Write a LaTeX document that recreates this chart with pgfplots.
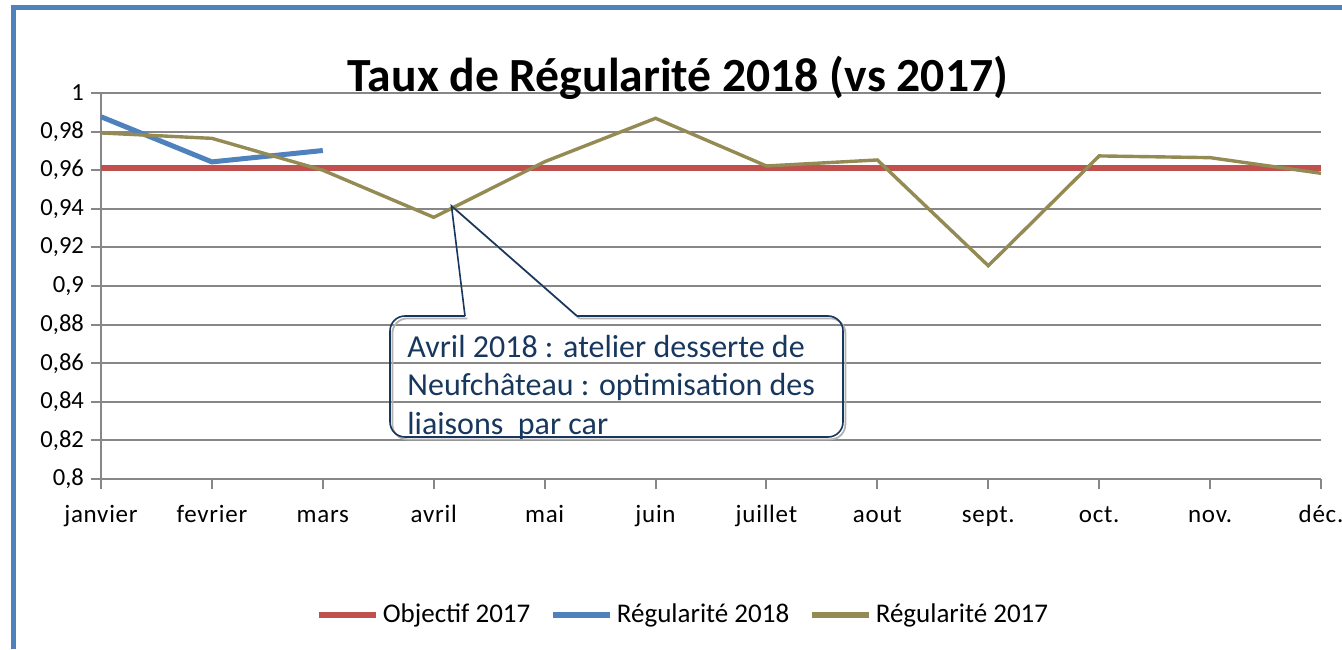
\documentclass[border=0pt]{standalone}
\usepackage{pgfplots}
\pgfplotsset{compat=1.18}
\usepackage{fontspec}
\setmainfont{Carlito}
\newfontfamily\spacedfont[LetterSpace=3]{Carlito}
\definecolor{cred}{HTML}{C0504D}
\definecolor{cblue}{HTML}{4F81BD}
\definecolor{colive}{HTML}{948A54}
\definecolor{cnavy}{HTML}{17375E}
\definecolor{cgrid}{HTML}{878787}
\begin{document}
\begin{tikzpicture}
\path[use as bounding box] (0,0) rectangle (671pt,324.5pt);
\draw[cblue, line width=2.5pt] (6.5pt,0pt) -- (6.5pt,320.5pt) -- (671pt,320.5pt);
\begin{axis}[
  at={(50.5pt,85pt)}, anchor=south west,
  width=610pt, height=193pt, scale only axis,
  xmin=0, xmax=11, ymin=0.8, ymax=1,
  xtick={0,...,11},
  xticklabels={janvier,fevrier,mars,avril,mai,juin,juillet,aout,sept.,oct.,nov.,déc.},
  ytick={0.8,0.82,...,1.001},
  axis x line*=bottom, axis y line*=left,
  axis line style={cgrid, line width=1pt, -},
  tick style={cgrid, line width=1pt},
  tick align=outside, major tick length=5pt,
  ymajorgrids, major grid style={cgrid, line width=1pt},
  /pgf/number format/assume math mode=true,
  /pgf/number format/use comma, /pgf/number format/fixed, /pgf/number format/precision=2,
  yticklabel style={font=\fontsize{12.3}{14}\selectfont},
  xticklabel style={font=\spacedfont\fontsize{12.5}{14}\selectfont, anchor=base, yshift=-16.5pt},
  legend style={draw=none, fill=none, at={(0.478,-0.352)}, anchor=center,
    font=\fontsize{13.5}{16}\selectfont,
    /tikz/every even column/.append style={column sep=8pt}},
  legend columns=3,
  legend image code/.code={\draw[#1, line width=2.8pt] (0pt,0pt) -- (28.5pt,0pt);},
  clip=false,
]
\addplot[cred, line width=2.8pt] coordinates {(0,0.961)(1,0.961)(2,0.961)(3,0.961)(4,0.961)(5,0.961)(6,0.961)(7,0.961)(8,0.961)(9,0.961)(10,0.961)(11,0.961)};
\addlegendentry{Objectif 2017}
\addplot[cblue, line width=2.5pt] coordinates {(0,0.9877)(1,0.9643)(2,0.9702)};
\addlegendentry{Régularité 2018}
\addplot[colive, line width=1.7pt] coordinates {(0,0.9793)(1,0.9765)(2,0.9600)(3,0.9356)(4,0.9644)(5,0.9869)(6,0.9622)(7,0.9653)(8,0.9105)(9,0.9674)(10,0.9665)(11,0.9584)};
\addlegendentry{Régularité 2017}
\coordinate (tip) at (axis cs:3.16,0.9415);
\end{axis}
\node[anchor=base, font=\fontsize{23.8}{27}\selectfont\bfseries, inner sep=0pt] at (339pt,278.5pt) {Taux de Régularité 2018 (vs 2017)};
% callout shadow
\draw[gray!60, line width=0.9pt, rounded corners=7.5pt, shift={(1.2pt,-1.2pt)}] (232.5pt,166.5pt) -- (195pt,166.5pt) -- (195pt,106pt) -- (421.5pt,106pt) -- (421.5pt,166.5pt) -- (288.5pt,166.5pt);
\draw[gray!60, line width=0.9pt, shift={(1.2pt,-1.2pt)}] (tip) -- (288.5pt,166.5pt);
\draw[cnavy, line width=0.8pt, rounded corners=7.5pt] (232.5pt,166.5pt) -- (195pt,166.5pt) -- (195pt,106pt) -- (421.5pt,106pt) -- (421.5pt,166.5pt) -- (288.5pt,166.5pt);
\draw[cnavy, line width=0.8pt] (232.5pt,166.5pt) -- (tip) -- (288.5pt,166.5pt);
\begin{scope}[every node/.style={anchor=base west, inner sep=0pt, text=cnavy, font=\fontsize{16}{18}\selectfont}]
\node at (203.5pt,146pt) {Avril 2018 : atelier desserte de};
\node at (203.5pt,127pt) {Neufchâteau : optimisation des};
\node at (203.5pt,107.5pt) {liaisons\ \ par car};
\end{scope}
\end{tikzpicture}
\end{document}
